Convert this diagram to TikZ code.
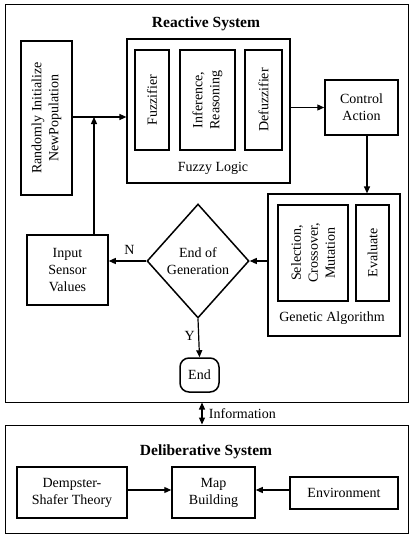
\documentclass[tikz,border=0pt]{standalone}
\usepackage{fontspec}
\setmainfont{Liberation Serif}
\usepackage{tikz}
\usetikzlibrary{arrows.meta,positioning,shapes.geometric,calc}

\begin{document}
\begin{tikzpicture}[x=1pt,y=-1pt,
  font=\fontsize{14}{17}\selectfont,
  frame/.style={draw, line width=1pt, inner sep=0pt},
  blk/.style={draw, line width=1.5pt, inner sep=0pt, align=center},
  vblk/.style={blk, rotate=90},
  ttl/.style={font=\fontsize{15.5}{18}\selectfont\bfseries},
  arr/.style={line width=1.2pt, -{Triangle[length=7pt,width=6pt]}}]
\useasboundingbox (0,0) rectangle (410,535);

% outer systems
\node[frame, minimum width=403, minimum height=397] (react) at (206.5,203.5) {};
\node[frame, minimum width=403, minimum height=108] (delib) at (206.5,479) {};
\node[ttl] (reacttl) at (206,24) {Reactive System};
\node[ttl] (delibtl) at (206,452) {Deliberative System};

% reactive part
\node[vblk, minimum width=154, minimum height=51] (rand) at (46.5,118) {Randomly Initialize\\NewPopulation};
\node[frame, line width=1.2pt, minimum width=163, minimum height=144] (fuzzy) at (208.5,111) {};
\node (fuzzylbl) at (213,168) {Fuzzy Logic};
\foreach \nm/\x/\w/\txt in {
  fuz/152/34/{Fuzzifier},
  inf/207.5/55/{Inference,\\Reasoning},
  defuz/263.5/37/{Defuzzifier}}
{
  \node[vblk, minimum width=100, minimum height=\w] (\nm) at (\x,100) {\txt};
}
\node[blk, minimum width=73, minimum height=55] (ctrl) at (361.5,107.5) {Control\\Action};

\node[frame, line width=1.2pt, minimum width=132, minimum height=142] (ga) at (334,265) {};
\node (galbl) at (332,318) {Genetic Algorithm};
\node[vblk, minimum width=96, minimum height=70] (sel) at (313,253) {Selection,\\Crossover,\\Mutation};
\node[vblk, minimum width=96, minimum height=33] (eval) at (372.5,253) {Evaluate};

\node[diamond, draw, line width=1.5pt, inner sep=0pt, align=center,
      minimum width=102, minimum height=114] (dia) at (198,261) {End of\\Generation};
\node[blk, minimum width=81, minimum height=70] (input) at (67.5,270) {Input\\Sensor\\Values};
\node[blk, rounded corners=9pt, minimum width=39, minimum height=34] (end) at (199.5,375) {End};

\coordinate (junc) at (94,117);
\draw[arr] (rand.south |- junc) -- (fuzzy.west |- junc);
\draw[arr] (junc |- input.north) -- (junc);
\draw[arr] (fuzzy.east |- ctrl.west) -- (ctrl.west);
\draw[arr] (ctrl.south -| 367,0) -- (ga.north -| 367,0);
\draw[arr] (ga.west |- dia.east) -- (dia.east);
\draw[arr] (dia.west) -- (input.east |- dia.west) node[pos=0.45, above=3pt] {N};
\draw[arr] (dia.south) -- (end.north) node[pos=0.45, left=0pt] {Y};

% link between systems
\draw[line width=1.2pt, {Triangle[length=7pt,width=6pt]}-{Triangle[length=7pt,width=6pt]}]
  (react.south -| 202,0) -- (delib.north -| 202,0) node[midway, right=3pt] {Information};

% deliberative part
\node[blk, minimum width=110, minimum height=51] (dst) at (72,492.5) {Dempster-\\Shafer Theory};
\node[blk, minimum width=83, minimum height=51] (map) at (213.5,492.5) {Map\\Building};
\node[blk, minimum width=108, minimum height=32] (env) at (344,493) {Environment};
\draw[arr] (dst.east |- 0,490) -- (map.west |- 0,490);
\draw[arr] (env.west |- 0,490) -- (map.east |- 0,490);
\end{tikzpicture}
\end{document}
